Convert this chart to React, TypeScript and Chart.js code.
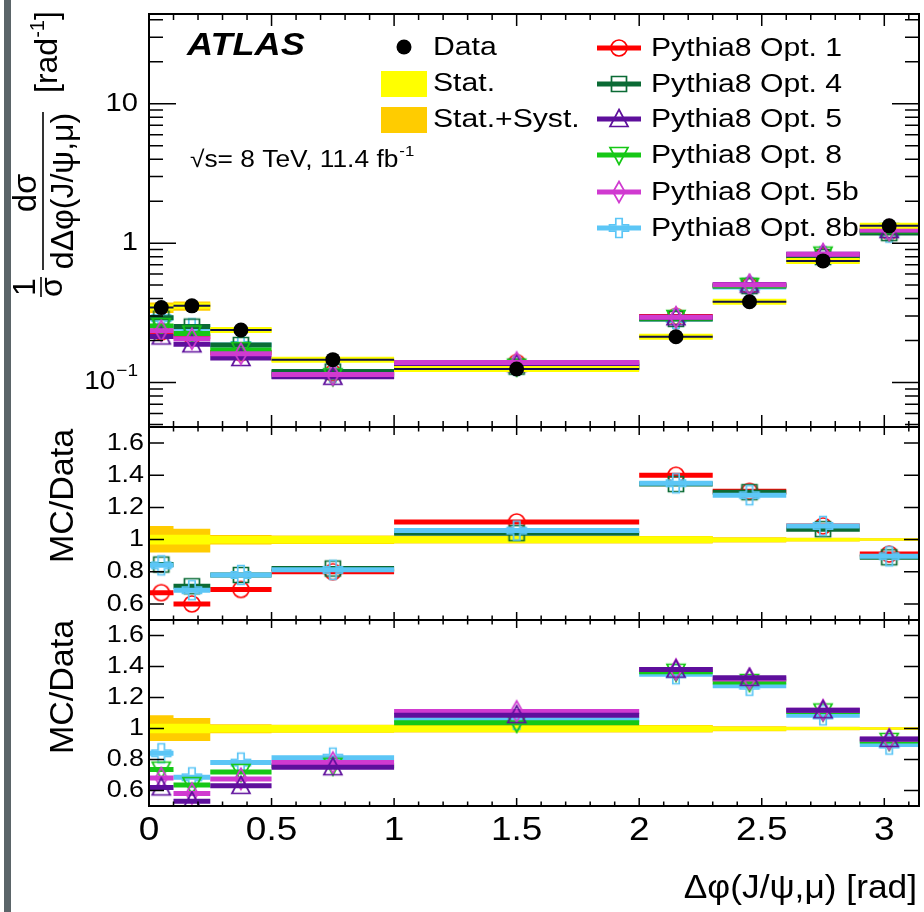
import React, { useEffect, useRef } from 'react';
import { Chart, registerables } from 'chart.js';

Chart.register(...registerables);

// ---------------- data ----------------
const binEdges = [0, 0.1, 0.25, 0.5, 1.0, 2.0, 2.3, 2.6, 2.9, Math.PI];
const binCenters = [0.05, 0.175, 0.375, 0.75, 1.5, 2.15, 2.45, 2.75, 3.02];

const dataValues = [0.345, 0.355, 0.238, 0.146, 0.125, 0.213, 0.38, 0.746, 1.33];
const dataTotLo = [0.316, 0.328, 0.229, 0.141, 0.121, 0.207, 0.373, 0.737, 1.318];
const dataTotHi = [0.375, 0.382, 0.247, 0.151, 0.129, 0.219, 0.387, 0.755, 1.342];

const opt1Values = [0.231, 0.213, 0.164, 0.117, 0.139, 0.298, 0.494, 0.809, 1.21];
const opt4Values = [0.292, 0.252, 0.186, 0.12, 0.13, 0.286, 0.492, 0.794, 1.18];
const opt5Values = [0.214, 0.188, 0.15, 0.11, 0.136, 0.294, 0.504, 0.834, 1.24];
const opt8Values = [0.254, 0.225, 0.171, 0.111, 0.13, 0.291, 0.494, 0.828, 1.22];
const opt5bValues = [0.235, 0.206, 0.161, 0.114, 0.139, 0.294, 0.502, 0.834, 1.24];
const opt8bValues = [0.29, 0.245, 0.186, 0.118, 0.132, 0.286, 0.485, 0.806, 1.19];

const opt1Ratio = [0.67, 0.6, 0.69, 0.8, 1.11, 1.4, 1.3, 1.085, 0.91];
const opt4Ratio = [0.845, 0.71, 0.78, 0.82, 1.04, 1.345, 1.295, 1.065, 0.89];
const opt5Ratio = [0.62, 0.53, 0.63, 0.75, 1.086, 1.38, 1.327, 1.118, 0.933];
const opt8Ratio = [0.735, 0.635, 0.72, 0.76, 1.037, 1.366, 1.3, 1.11, 0.92];
const opt5bRatio = [0.68, 0.58, 0.675, 0.78, 1.11, 1.38, 1.32, 1.118, 0.93];
const opt8bRatio = [0.84, 0.685, 0.78, 0.812, 1.056, 1.35, 1.276, 1.085, 0.896];

const statLo = [0.97, 0.97, 0.975, 0.975, 0.978, 0.978, 0.985, 0.99, 0.994];
const statHi = [1.03, 1.03, 1.022, 1.022, 1.02, 1.02, 1.012, 1.01, 1.006];
const totLo = [0.92, 0.92, 0.97, 0.972, 0.975, 0.975, 0.982, 0.988, 0.992];
const totHi = [1.085, 1.068, 1.028, 1.025, 1.022, 1.022, 1.015, 1.012, 1.008];

const xTickValues = [0, 0.5, 1, 1.5, 2, 2.5, 3];
const xTickLabels = ['0', '0.5', '1', '1.5', '2', '2.5', '3'];
const topTickValues = [0.1, 1, 10];
const topTickBase = ['10', '1', '10'];
const topTickExp = ['\u22121', '', ''];
const ratioTickValues = [0.6, 0.8, 1, 1.2, 1.4, 1.6];
const ratioTickLabels = ['0.6', '0.8', '1', '1.2', '1.4', '1.6'];

const seriesLabels = ['Pythia8 Opt. 1', 'Pythia8 Opt. 4', 'Pythia8 Opt. 5', 'Pythia8 Opt. 8', 'Pythia8 Opt. 5b', 'Pythia8 Opt. 8b'];

// ---------------- styles ----------------
const FONT = '"Liberation Sans", Arial, Helvetica, sans-serif';
const C = {
  opt1: '#ff0000',
  opt4: '#0b6b35',
  opt5: '#5e0f9c',
  opt8: '#16c816',
  opt5b: '#d03ad0',
  opt8b: '#5cc6f6',
  yellow: '#ffff00',
  orange: '#ffcc00',
};
const SX = 1.12;

function markerCanvas(kind: string, color: string) {
  const c = document.createElement('canvas');
  c.width = 26;
  c.height = 26;
  const g = c.getContext('2d') as CanvasRenderingContext2D;
  g.strokeStyle = color;
  g.lineWidth = 1.7;
  g.translate(13, 13);
  g.beginPath();
  if (kind === 'circle') g.arc(0, 0, 8, 0, Math.PI * 2);
  else if (kind === 'square') g.rect(-7.5, -7.5, 15, 15);
  else if (kind === 'triUp') { g.moveTo(0, -9.5); g.lineTo(9, 7.5); g.lineTo(-9, 7.5); g.closePath(); }
  else if (kind === 'triDown') { g.moveTo(0, 9.5); g.lineTo(9, -7.5); g.lineTo(-9, -7.5); g.closePath(); }
  else if (kind === 'diamond') { g.moveTo(0, -10.5); g.lineTo(6, 0); g.lineTo(0, 10.5); g.lineTo(-6, 0); g.closePath(); }
  else if (kind === 'cross') {
    const a = 3.2, b = 9.5;
    const p = [[-a, -b], [a, -b], [a, -a], [b, -a], [b, a], [a, a], [a, b], [-a, b], [-a, a], [-b, a], [-b, -a], [-a, -a]];
    g.moveTo(p[0][0], p[0][1]);
    for (let i = 1; i < p.length; i++) g.lineTo(p[i][0], p[i][1]);
    g.closePath();
  }
  g.stroke();
  return c;
}

// ---------------- data helpers ----------------
function segData(vals: number[]) {
  const out: any[] = [];
  vals.forEach((v, i) => {
    out.push({ x: binEdges[i], y: v }, { x: binEdges[i + 1], y: v }, { x: binEdges[i + 1], y: null });
  });
  return out;
}
function ptData(vals: number[]) {
  return vals.map((v, i) => ({ x: binCenters[i], y: v }));
}
function stepData(vals: number[]) {
  const out: any[] = vals.map((v, i) => ({ x: binEdges[i], y: v }));
  out.push({ x: binEdges[vals.length], y: vals[vals.length - 1] });
  return out;
}

function lineDs(vals: number[], color: string, order: number, width = 5) {
  return {
    type: 'line', data: segData(vals), borderColor: color, borderWidth: width, pointRadius: 0,
    spanGaps: false, fill: false, order, borderCapStyle: 'butt', tension: 0,
  };
}
function markDs(vals: number[], style: any, order: number) {
  return {
    type: 'line', data: ptData(vals), showLine: false, pointStyle: style, pointRadius: 9,
    pointBorderWidth: 0, order, fill: false,
  };
}
function bandDs(hi: number[], lo: number[], color: string, order: number) {
  return [
    { type: 'line', data: stepData(hi), stepped: 'before', borderWidth: 0, borderColor: 'transparent', pointRadius: 0, fill: false, order },
    { type: 'line', data: stepData(lo), stepped: 'before', borderWidth: 0, borderColor: 'transparent', pointRadius: 0, fill: '-1', backgroundColor: color, order },
  ];
}

// ---------------- text helpers ----------------
function txt(ctx: CanvasRenderingContext2D, s: string, x: number, y: number, o: any) {
  ctx.save();
  ctx.translate(x, y);
  if (o.sx) ctx.scale(o.sx, 1);
  ctx.font = `${o.style || ''} ${o.weight || ''} ${o.size}px ${FONT}`;
  ctx.textAlign = o.align || 'left';
  ctx.textBaseline = o.baseline || 'alphabetic';
  ctx.fillStyle = o.color || '#000';
  ctx.fillText(s, 0, 0);
  ctx.restore();
}
function width(ctx: CanvasRenderingContext2D, s: string, size: number, extra = '') {
  ctx.save();
  ctx.font = `${extra} ${size}px ${FONT}`;
  const w = ctx.measureText(s).width;
  ctx.restore();
  return w;
}

function drawXTicks(ctx: CanvasRenderingContext2D, chart: any, major: number, minor: number) {
  const a = chart.chartArea;
  const xs = chart.scales.x;
  ctx.beginPath();
  for (let i = 0; i <= 31; i++) {
    const px = xs.getPixelForValue(i / 10);
    const len = i % 5 === 0 ? major : minor;
    ctx.moveTo(px, a.top); ctx.lineTo(px, a.top + len);
    ctx.moveTo(px, a.bottom); ctx.lineTo(px, a.bottom - len);
  }
  ctx.stroke();
}
function drawYTicks(ctx: CanvasRenderingContext2D, chart: any, vals: number[], lens: number[]) {
  const a = chart.chartArea;
  const ys = chart.scales.y;
  ctx.beginPath();
  vals.forEach((v, i) => {
    const py = ys.getPixelForValue(v);
    ctx.moveTo(a.left, py); ctx.lineTo(a.left + lens[i], py);
    ctx.moveTo(a.right, py); ctx.lineTo(a.right - lens[i], py);
  });
  ctx.stroke();
}
function frame(ctx: CanvasRenderingContext2D, chart: any) {
  const a = chart.chartArea;
  ctx.lineWidth = 2;
  ctx.strokeRect(a.left, a.top, a.right - a.left, a.bottom - a.top);
}

function ratioAxis(ctx: CanvasRenderingContext2D, chart: any, titleCenter: number) {
  const a = chart.chartArea;
  ctx.save();
  ctx.strokeStyle = '#000';
  ctx.lineWidth = 1.5;
  drawXTicks(ctx, chart, 8, 4.5);
  drawYTicks(ctx, chart, ratioTickValues, ratioTickValues.map(() => 15));
  frame(ctx, chart);
  ratioTickValues.forEach((v, i) => {
    txt(ctx, ratioTickLabels[i], a.left - 5, chart.scales.y.getPixelForValue(v), { size: 24, align: 'right', baseline: 'middle', sx: SX });
  });
  ctx.save();
  ctx.rotate(-Math.PI / 2);
  txt(ctx, 'MC/Data', -titleCenter, 73, { size: 34, align: 'center' });
  ctx.restore();
  ctx.restore();
}

// ---------------- plugins ----------------
function topPlugin(markers: any) {
  return {
    id: 'topAxes',
    afterDraw(chart: any) {
      const ctx = chart.ctx as CanvasRenderingContext2D;
      const a = chart.chartArea;
      const ys = chart.scales.y;
      ctx.save();
      ctx.strokeStyle = '#000';
      ctx.lineWidth = 1.5;
      drawXTicks(ctx, chart, 12, 6);
      const tv: number[] = [];
      const tl: number[] = [];
      for (let d = -2; d <= 1; d++) {
        for (let k = 1; k <= 9; k++) {
          const v = k * Math.pow(10, d);
          if (v >= ys.min && v <= ys.max) { tv.push(v); tl.push(k === 1 ? 27 : 14); }
        }
      }
      drawYTicks(ctx, chart, tv, tl);
      frame(ctx, chart);

      // y tick labels
      topTickValues.forEach((v, i) => {
        const py = ys.getPixelForValue(v);
        const right = a.left - 11;
        if (topTickExp[i]) {
          const we = width(ctx, topTickExp[i], 17) * SX;
          txt(ctx, topTickExp[i], right, py - 11, { size: 17, align: 'right', baseline: 'middle', sx: SX });
          txt(ctx, topTickBase[i], right - we - 1, py, { size: 25, align: 'right', baseline: 'middle', sx: SX });
        } else {
          txt(ctx, topTickBase[i], right, py, { size: 26, align: 'right', baseline: 'middle', sx: SX });
        }
      });

      // rotated y title
      ctx.save();
      ctx.rotate(-Math.PI / 2);
      txt(ctx, '1', -287, 35, { size: 32, align: 'center' });
      ctx.lineWidth = 1.6;
      ctx.beginPath(); ctx.moveTo(-297, 41); ctx.lineTo(-277, 41); ctx.stroke();
      txt(ctx, '\u03c3', -287, 62, { size: 32, align: 'center' });
      txt(ctx, 'd\u03c3', -193, 36, { size: 33, align: 'center' });
      ctx.beginPath(); ctx.moveTo(-270, 43); ctx.lineTo(-112, 43); ctx.stroke();
      txt(ctx, 'd\u0394\u03c6(J/\u03c8,\u03bc)', -191, 73, { size: 32, align: 'center' });
      const w1 = width(ctx, '[rad', 32);
      const w2 = width(ctx, '-1', 20);
      txt(ctx, '[rad', -93, 57, { size: 32 });
      txt(ctx, '-1', -93 + w1, 44, { size: 20 });
      txt(ctx, ']', -93 + w1 + w2, 57, { size: 32 });
      ctx.restore();

      // ATLAS label
      txt(ctx, 'ATLAS', 187, 46, { size: 32, weight: 'bold', style: 'italic', baseline: 'middle', sx: 1.13 });
      const ws = width(ctx, '\u221as= 8 TeV, 11.4 fb', 23.5) * SX;
      txt(ctx, '\u221as= 8 TeV, 11.4 fb', 190, 161, { size: 23.5, baseline: 'middle', sx: SX });
      txt(ctx, '-1', 190 + ws + 1, 152, { size: 15, baseline: 'middle', sx: SX });

      // legend (left)
      const LS = 26, LX = 1.16;
      ctx.fillStyle = '#000';
      ctx.beginPath(); ctx.arc(404, 47, 7.5, 0, Math.PI * 2); ctx.fill();
      txt(ctx, 'Data', 433, 48, { size: LS, baseline: 'middle', sx: LX });
      ctx.fillStyle = C.yellow; ctx.fillRect(381, 71, 46, 26);
      txt(ctx, 'Stat.', 433, 84, { size: LS, baseline: 'middle', sx: LX });
      ctx.fillStyle = C.orange; ctx.fillRect(381, 107, 46, 26);
      txt(ctx, 'Stat.+Syst.', 433, 120, { size: LS, baseline: 'middle', sx: LX });

      // legend (right)
      const rows = [48, 84, 119, 155, 192, 228];
      const cols = [C.opt1, C.opt4, C.opt5, C.opt8, C.opt5b, C.opt8b];
      const mk = [markers.opt1, markers.opt4, markers.opt5, markers.opt8, markers.opt5b, markers.opt8b];
      rows.forEach((ry, i) => {
        ctx.strokeStyle = cols[i];
        ctx.lineWidth = 5;
        ctx.beginPath(); ctx.moveTo(597, ry); ctx.lineTo(641, ry); ctx.stroke();
        ctx.drawImage(mk[i], 619 - 13, ry - 13);
        txt(ctx, seriesLabels[i], 651, ry + 1, { size: LS, baseline: 'middle', sx: LX });
      });
      ctx.restore();
    },
  };
}

function midPlugin() {
  return {
    id: 'midAxes',
    afterDraw(chart: any) {
      ratioAxis(chart.ctx, chart, 69);
    },
  };
}
function botPlugin() {
  return {
    id: 'botAxes',
    afterDraw(chart: any) {
      const ctx = chart.ctx as CanvasRenderingContext2D;
      ratioAxis(ctx, chart, 67);
      const xs = chart.scales.x;
      xTickValues.forEach((v, i) => {
        txt(ctx, xTickLabels[i], xs.getPixelForValue(v), 211, { size: 33, align: 'center', baseline: 'middle', sx: SX });
      });
      txt(ctx, '\u0394\u03c6(J/\u03c8,\u03bc) [rad]', 917, 269, { size: 33, align: 'right', baseline: 'middle', sx: 1.07 });
    },
  };
}

function baseOptions(yScale: any, padTop: number, padBottom: number) {
  return {
    animation: false,
    responsive: false,
    maintainAspectRatio: false,
    events: [],
    layout: { autoPadding: false, padding: { left: 149, right: 5, top: padTop, bottom: padBottom } },
    plugins: { legend: { display: false }, tooltip: { enabled: false }, title: { display: false } },
    scales: {
      x: { type: 'linear', min: 0, max: Math.PI, display: false },
      y: yScale,
    },
  };
}

export default function App() {
  const r1 = useRef<HTMLCanvasElement>(null);
  const r2 = useRef<HTMLCanvasElement>(null);
  const r3 = useRef<HTMLCanvasElement>(null);

  useEffect(() => {
    const markers = {
      opt1: markerCanvas('circle', C.opt1),
      opt4: markerCanvas('square', C.opt4),
      opt5: markerCanvas('triUp', C.opt5),
      opt8: markerCanvas('triDown', C.opt8),
      opt5b: markerCanvas('diamond', C.opt5b),
      opt8b: markerCanvas('cross', C.opt8b),
    };

    const topDatasets: any[] = [
      ...bandDs(dataTotHi, dataTotLo, C.orange, 300),
      lineDs(opt1Values, C.opt1, 60), markDs(opt1Values, markers.opt1, 60),
      lineDs(opt8bValues, C.opt8b, 59), markDs(opt8bValues, markers.opt8b, 59),
      lineDs(opt4Values, C.opt4, 58), markDs(opt4Values, markers.opt4, 58),
      lineDs(opt8Values, C.opt8, 57), markDs(opt8Values, markers.opt8, 57),
      lineDs(opt5Values, C.opt5, 56), markDs(opt5Values, markers.opt5, 56),
      lineDs(opt5bValues, C.opt5b, 55), markDs(opt5bValues, markers.opt5b, 55),
      lineDs(dataValues, C.yellow, 3, 6),
      lineDs(dataValues, '#12124a', 2, 2),
      { type: 'line', data: ptData(dataValues), showLine: false, pointStyle: 'circle', pointRadius: 7.5, pointBackgroundColor: '#000', pointBorderWidth: 0, order: 1 },
    ];
    const midDatasets: any[] = [
      ...bandDs(totHi, totLo, C.orange, 301),
      ...bandDs(statHi, statLo, C.yellow, 300),
      lineDs(opt1Ratio, C.opt1, 60), markDs(opt1Ratio, markers.opt1, 60),
      lineDs(opt4Ratio, C.opt4, 59), markDs(opt4Ratio, markers.opt4, 59),
      lineDs(opt8bRatio, C.opt8b, 58), markDs(opt8bRatio, markers.opt8b, 58),
    ];
    const botDatasets: any[] = [
      ...bandDs(totHi, totLo, C.orange, 301),
      ...bandDs(statHi, statLo, C.yellow, 300),
      lineDs(opt8bRatio, C.opt8b, 60), markDs(opt8bRatio, markers.opt8b, 60),
      lineDs(opt8Ratio, C.opt8, 59), markDs(opt8Ratio, markers.opt8, 59),
      lineDs(opt5bRatio, C.opt5b, 58), markDs(opt5bRatio, markers.opt5b, 58),
      lineDs(opt5Ratio, C.opt5, 57), markDs(opt5Ratio, markers.opt5, 57),
    ];

    const ratioY = { type: 'linear', min: 0.5, max: 1.7, display: false };
    const charts = [
      new Chart(r1.current as any, {
        type: 'line',
        data: { datasets: topDatasets },
        options: baseOptions({ type: 'logarithmic', min: 0.048, max: 44, display: false }, 14, 0) as any,
        plugins: [topPlugin(markers)],
      } as any),
      new Chart(r2.current as any, {
        type: 'line',
        data: { datasets: midDatasets },
        options: baseOptions(ratioY, 0, 0) as any,
        plugins: [midPlugin()],
      } as any),
      new Chart(r3.current as any, {
        type: 'line',
        data: { datasets: botDatasets },
        options: baseOptions({ ...ratioY }, 0, 106) as any,
        plugins: [botPlugin()],
      } as any),
    ];
    return () => charts.forEach((c) => c.destroy());
  }, []);

  const cs: any = { position: 'absolute', left: 0, display: 'block' };
  return (
    <div style={{ position: 'absolute', left: 0, top: 0, width: 924, height: 912, background: '#fff', overflow: 'hidden' }}>
      <div style={{ position: 'absolute', left: 4, top: 0, width: 7, height: 912, background: '#5b6569' }} />
      <canvas ref={r1} width={924} height={427} style={{ ...cs, top: 0, width: 924, height: 427 }} />
      <canvas ref={r2} width={924} height={193} style={{ ...cs, top: 427, width: 924, height: 193 }} />
      <canvas ref={r3} width={924} height={292} style={{ ...cs, top: 620, width: 924, height: 292 }} />
    </div>
  );
}
